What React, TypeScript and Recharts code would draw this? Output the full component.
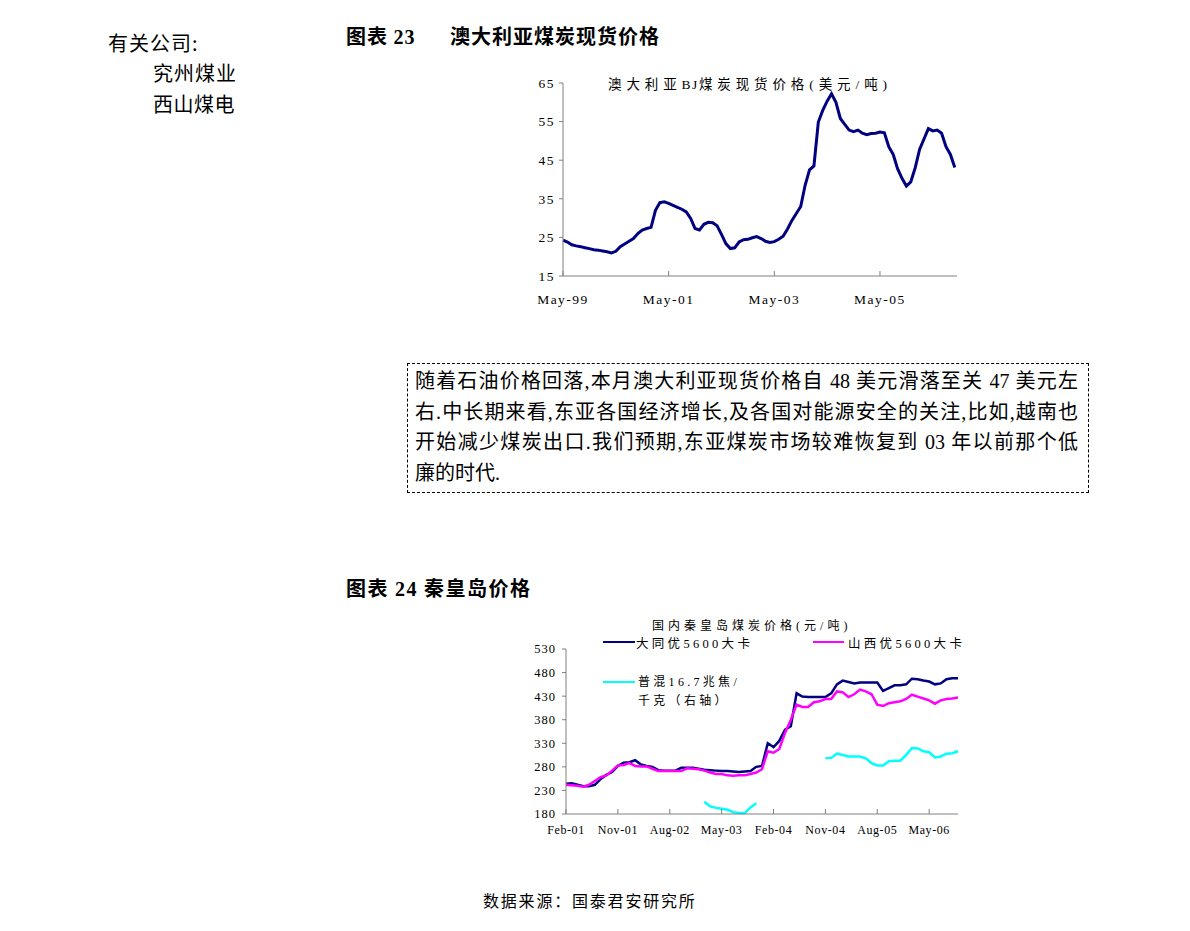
import React from 'react';
import { LineChart, Line, XAxis, YAxis } from 'recharts';

// Australian BJ spot coal price, monthly from May-99 (USD/t)
const auPrice = [
  24.3, 23.8, 23.1, 22.8, 22.6, 22.3, 22.1, 21.8, 21.7, 21.5,
  21.3, 21.0, 21.4, 22.6, 23.3, 24.0, 24.7, 26.0, 26.9, 27.3,
  27.6, 32.0, 34.0, 34.2, 33.8, 33.3, 32.8, 32.3, 31.6, 29.9,
  27.3, 26.9, 28.4, 28.9, 28.8, 28.0, 25.8, 23.4, 22.1, 22.3,
  23.8, 24.4, 24.5, 24.9, 25.2, 24.7, 24.0, 23.7, 23.9, 24.5,
  25.3, 27.2, 29.4, 31.2, 33.0, 38.5, 42.5, 43.5, 54.9, 57.9,
  60.3, 62.2, 60.0, 55.8, 54.3, 52.8, 52.4, 52.8, 52.0, 51.6,
  51.9, 52.0, 52.3, 52.1, 48.5, 46.5, 42.8, 40.3, 38.3, 39.4,
  43.0, 47.8, 50.5, 53.2, 52.6, 52.8, 52.0, 48.5, 46.5, 43.1,
];
const auTickIdx = [0, 24, 48, 72];
const auTickLabels = ['May-99', 'May-01', 'May-03', 'May-05'];
const auYTicks = [15, 25, 35, 45, 55, 65];

// Qinhuangdao prices, monthly from Feb-01 (RMB/t)
const datongPrice = [
  244, 245, 242, 239, 239, 242, 254, 263, 269, 282,
  289, 290, 294, 285, 282, 280, 273, 272, 272, 272,
  278, 278, 278, 276, 274, 273, 272, 271, 271, 270,
  269, 270, 271, 280, 282, 330, 322, 335, 359, 366,
  436, 429, 428, 428, 428, 428, 436, 455, 463, 460,
  457, 459, 459, 459, 459, 441, 447, 453, 453, 455,
  467, 466, 463, 461, 455, 457, 466, 468, 468,
];
const shanxiPrice = [
  242, 241, 240, 238, 242, 250, 258, 262, 272, 283,
  284, 288, 282, 281, 281, 276, 271, 271, 271, 271,
  271, 277, 276, 275, 272, 268, 265, 265, 262, 261,
  262, 262, 265, 268, 275, 313, 310, 318, 352, 380,
  412, 407, 407, 417, 419, 424, 424, 440, 438, 428,
  434, 444, 440, 434, 412, 409, 415, 417, 419, 424,
  433, 429, 425, 421, 414, 421, 424, 425, 427,
];
const puhunPrice: (number | null)[] = [
  null, null, null, null, null, null, null, null, null, null,
  null, null, null, null, null, null, null, null, null, null,
  null, null, null, null, 206, 196, 193, 191, 189, 184,
  182, 182, 194, 203, null, null, null, null, null, null,
  null, null, null, null, null, 298, 299, 308, 305, 302,
  302, 302, 298, 288, 283, 283, 292, 293, 293, 305,
  320, 319, 313, 311, 300, 302, 308, 309, 313,
];
const qhdTickIdx = [0, 9, 18, 27, 36, 45, 54, 63];
const qhdTickLabels = ['Feb-01', 'Nov-01', 'Aug-02', 'May-03', 'Feb-04', 'Nov-04', 'Aug-05', 'May-06'];
const qhdYTicks = [180, 230, 280, 330, 380, 430, 480, 530];

const auData = auPrice.map((v, i) => ({ m: i, price: v }));
const qhdData = datongPrice.map((v, i) => ({
  m: i,
  datong: v,
  shanxi: shanxiPrice[i],
  puhun: puhunPrice[i],
}));

const SERIF = '"Liberation Serif", "Noto Sans CJK SC", serif';
const CJK = '"Noto Sans CJK SC", "Liberation Serif", serif';

// x ticks point inward (up) in the original, labels below
const makeXTick = (idx: number[], labels: string[], axisY: number, dy: number, fs: number, ls: number) =>
  (props: any) => {
    const { x, payload } = props;
    const label = labels[idx.indexOf(payload.value)];
    return (
      <g>
        <line x1={x} x2={x} y1={axisY} y2={axisY - 5} stroke="#808080" />
        <text x={x} y={axisY + dy} textAnchor="middle" dominantBaseline="central"
          fontFamily={SERIF} fontSize={fs} fill="#000" style={{ letterSpacing: ls }}>
          {label}
        </text>
      </g>
    );
  };

const abs = (left: number, top: number, extra: React.CSSProperties = {}): React.CSSProperties => ({
  position: 'absolute', left, top, whiteSpace: 'nowrap', ...extra,
});

const boxLines = [
  '随着石油价格回落,本月澳大利亚现货价格自 48 美元滑落至关 47 美元左',
  '右.中长期来看,东亚各国经济增长,及各国对能源安全的关注,比如,越南也',
  '开始减少煤炭出口.我们预期,东亚煤炭市场较难恢复到 03 年以前那个低',
  '廉的时代.',
];

export default function App() {
  return (
    <div style={{ position: 'absolute', left: 0, top: 0, width: 1190, height: 931, background: '#fff', fontFamily: CJK, color: '#000' }}>
      {/* side note */}
      <div style={abs(108, 31, { fontSize: 20, letterSpacing: 1, lineHeight: '24px' })}>有关公司:</div>
      <div style={abs(153, 61, { fontSize: 20, letterSpacing: 1, lineHeight: '24px' })}>究州煤业</div>
      <div style={abs(153, 92, { fontSize: 20, letterSpacing: 0.5, lineHeight: '24px' })}>西山煤电</div>

      {/* Figure 23 */}
      <div style={abs(346, 23, { fontSize: 20, fontWeight: 'bold', lineHeight: '26px', letterSpacing: 1 })}>
        图表 <span style={{ fontFamily: SERIF }}>23</span>
        <span style={{ position: 'absolute', left: 104, top: 0 }}>澳大利亚煤炭现货价格</span>
      </div>

      <div style={abs(520, 60)}>
        <LineChart width={450} height={260} data={auData} margin={{ top: 23, right: 13, bottom: 0, left: 0 }}>
          <XAxis dataKey="m" type="number" domain={[0, 89.5]} ticks={auTickIdx} height={44}
            stroke="#808080" tickLine={false} interval={0}
            tick={makeXTick(auTickIdx, auTickLabels, 216, 23, 13.5, 1.5)} />
          <YAxis type="number" domain={[15, 65]} ticks={auYTicks} width={43} stroke="#808080"
            tickSize={4} tickMargin={4} interval={0}
            tick={{ fontSize: 13.5, fontFamily: SERIF, fill: '#000', style: { letterSpacing: 1.5 } }} />
          <Line dataKey="price" type="linear" stroke="#000080" strokeWidth={3} dot={false} isAnimationActive={false} />
        </LineChart>
      </div>
      <div style={abs(608, 74, { fontSize: 13.5, letterSpacing: 4.9, lineHeight: '18px' })}>
        澳大利亚<span style={{ fontFamily: SERIF, letterSpacing: 1.5 }}>BJ</span>煤炭现货价格<span style={{ fontFamily: SERIF }}>(</span>美元<span style={{ fontFamily: SERIF }}>/</span>吨<span style={{ fontFamily: SERIF }}>)</span>
      </div>

      {/* commentary box */}
      <div style={{ position: 'absolute', left: 407, top: 363, width: 682, height: 130, boxSizing: 'border-box',
        border: '1px dashed #000', padding: '2px 10px 0 7px', fontSize: 20, lineHeight: '30.5px',
        fontFamily: '"Liberation Serif", "Noto Sans CJK SC", serif' }}>
        {boxLines.map((l, i) => (
          <div key={i} style={{ textAlign: 'justify', textAlignLast: i < boxLines.length - 1 ? 'justify' : 'left', whiteSpace: 'nowrap' }}>{l}</div>
        ))}
      </div>

      {/* Figure 24 */}
      <div style={abs(346, 575, { fontSize: 20, fontWeight: 'bold', lineHeight: '26px', letterSpacing: 1.5 })}>
        图表 <span style={{ fontFamily: SERIF }}>24</span> 秦皇岛价格
      </div>

      <div style={abs(520, 610)}>
        <LineChart width={450} height={230} data={qhdData} margin={{ top: 39, right: 12, bottom: 0, left: 0 }}>
          <XAxis dataKey="m" type="number" domain={[0, 68]} ticks={qhdTickIdx} height={26}
            stroke="#808080" tickLine={false} interval={0}
            tick={makeXTick(qhdTickIdx, qhdTickLabels, 204, 16, 12, 0.6)} />
          <YAxis type="number" domain={[180, 530]} ticks={qhdYTicks} width={46} stroke="#808080"
            tickSize={4} tickMargin={6} interval={0}
            tick={{ fontSize: 12.5, fontFamily: SERIF, fill: '#000', style: { letterSpacing: 1 } }} />
          <Line dataKey="datong" type="linear" stroke="#000080" strokeWidth={2.5} dot={false} isAnimationActive={false} />
          <Line dataKey="shanxi" type="linear" stroke="#FF00FF" strokeWidth={2.5} dot={false} isAnimationActive={false} />
          <Line dataKey="puhun" type="linear" stroke="#00FFFF" strokeWidth={2.5} dot={false} connectNulls={false} isAnimationActive={false} />
        </LineChart>
      </div>
      <div style={abs(652, 619, { fontSize: 12, letterSpacing: 4, lineHeight: '12px' })}>
        国内秦皇岛煤炭价格<span style={{ fontFamily: SERIF }}>(</span>元<span style={{ fontFamily: SERIF }}>/</span>吨<span style={{ fontFamily: SERIF }}>)</span>
      </div>
      {/* legend */}
      <div style={abs(603, 641, { width: 32, height: 0, borderTop: '2.5px solid #000080' })} />
      <div style={abs(636, 637, { fontSize: 12.5, letterSpacing: 3.3, lineHeight: '12px' })}>大同优<span style={{ fontFamily: SERIF }}>5600</span>大卡</div>
      <div style={abs(813, 641, { width: 31, height: 0, borderTop: '2.5px solid #FF00FF' })} />
      <div style={abs(848, 637, { fontSize: 12.5, letterSpacing: 3.3, lineHeight: '12px' })}>山西优<span style={{ fontFamily: SERIF }}>5600</span>大卡</div>
      <div style={abs(603, 681, { width: 32, height: 0, borderTop: '2.5px solid #00FFFF' })} />
      <div style={abs(638, 675, { fontSize: 12, letterSpacing: 3.3, lineHeight: '12px' })}>
        普混<span style={{ fontFamily: SERIF }}>16.7</span>兆焦<span style={{ fontFamily: SERIF }}>/</span>
      </div>
      <div style={abs(638, 694, { fontSize: 12, letterSpacing: 3.3, lineHeight: '12px' })}>千克（右轴）</div>

      {/* source */}
      <div style={abs(483, 890, { fontSize: 16, letterSpacing: 1.8, lineHeight: '20px' })}>数据来源：国泰君安研究所</div>
    </div>
  );
}
